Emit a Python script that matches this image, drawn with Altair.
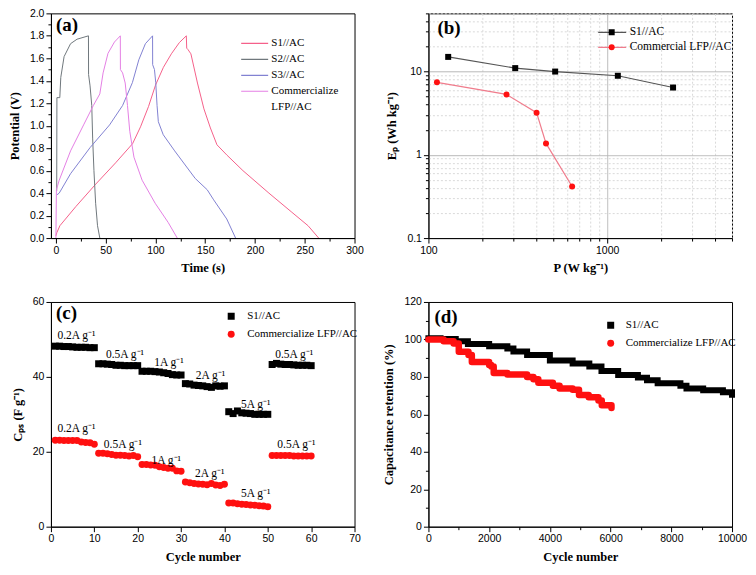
import altair as alt
import pandas as pd

SERIF = "Liberation Serif"
SANS = "Liberation Sans"
W, H = 304, 225

# ---------------- (a) galvanostatic charge/discharge ----------------
a_names = ["S1//AC", "S2//AC", "S3//AC", "Commercialize LFP//AC"]
a_colors = ["#f5608a", "#6f777c", "#8282d2", "#e47fe4"]
a_s1_t = [0, 1, 4, 20, 40, 60, 77, 85, 93, 100, 108, 116, 124, 131,
          131.4, 132.5, 135.6, 142.2, 148.7, 155.2, 161.8, 171.6, 187.9, 214, 237, 253.3, 264]
a_s1_v = [0.02, 0.05, 0.11, 0.28, 0.48, 0.67, 0.84, 0.99, 1.17, 1.36, 1.52, 1.64, 1.74, 1.80,
          1.69, 1.68, 1.64, 1.38, 1.15, 0.98, 0.83, 0.74, 0.60, 0.40, 0.23, 0.11, 0.0]
a_s2_t = [0.8, 1.0, 3.9, 4.9, 8.2, 14.7, 21.2, 32.7, 32.8, 34.3, 36.0, 36.9, 38.2, 39.9, 41.8, 44.1]
a_s2_v = [0.42, 1.25, 1.25, 1.43, 1.615, 1.73, 1.77, 1.80, 1.456, 1.355, 1.18, 0.89, 0.60, 0.31, 0.11, 0.0]
a_s3_t = [1.0, 3.3, 14.7, 34.3, 53.9, 67.0, 76.8, 83.3, 89.9, 97.1, 97.2, 99.0, 100.3, 101.6,
          102.9, 107.8, 119.3, 140.0, 152.0, 158.5, 171.6, 180.5]
a_s3_v = [0.385, 0.40, 0.573, 0.805, 1.007, 1.18, 1.383, 1.587, 1.73, 1.80, 1.543, 1.50, 1.383, 1.18,
          1.036, 0.92, 0.776, 0.53, 0.43, 0.34, 0.17, 0.0]
a_lfp_t = [0, 0.5, 3.3, 14.7, 27.8, 37.6, 44.1, 47.4, 52.3, 58.8, 64.7, 64.8, 67.0, 69.6, 71.9,
           74.2, 78.4, 86.6, 99.7, 112.7, 121.9]
a_lfp_v = [0.0, 0.43, 0.515, 0.776, 1.007, 1.18, 1.283, 1.47, 1.644, 1.745, 1.80, 1.50, 1.47, 1.38,
           1.18, 0.95, 0.72, 0.515, 0.31, 0.14, 0.0]

# ---------------- (b) Ragone plot ----------------
b_names = ["S1//AC", "Commercial LFP//AC"]
b_s1_p = [129, 306, 512, 1148, 2339]
b_s1_e = [15.0, 11.0, 10.0, 8.9, 6.43]
b_lfp_p = [111.6, 273.6, 402.9, 455, 637]
b_lfp_e = [7.43, 5.31, 3.21, 1.37, 0.417]

# ---------------- (c) rate capability ----------------
c_names = ["S1//AC", "Commercialize LFP//AC"]
c_cycle = list(range(1, 61))
c_s1 = [48.2, 48.2, 48.1, 48.1, 48.0, 47.9, 47.9, 47.9, 47.8, 47.8,
        43.5, 43.5, 43.4, 43.3, 43.1, 43.1, 43.0, 43.0, 43.0, 43.0,
        41.5, 41.5, 41.5, 41.4, 41.3, 41.1, 40.9, 40.6, 40.5, 40.5,
        38.2, 38.1, 37.8, 37.7, 37.6, 37.4, 37.2, 37.6, 37.5, 37.6,
        30.7, 30.2, 30.9, 30.4, 30.3, 30.2, 30.0, 30.0, 30.0, 30.0,
        43.3, 43.6, 43.4, 43.3, 43.3, 43.2, 43.1, 43.1, 43.1, 43.0]
c_lfp = [23.1, 23.1, 23.0, 23.0, 23.0, 23.0, 22.6, 22.5, 22.4, 22.0,
         19.6, 19.6, 19.5, 19.3, 19.1, 19.1, 19.0, 18.9, 19.0, 18.7,
         16.6, 16.6, 16.5, 16.4, 16.0, 15.8, 15.6, 15.6, 14.9, 14.8,
         11.9, 11.7, 11.5, 11.4, 11.3, 11.2, 11.5, 11.1, 11.0, 11.3,
         6.3, 6.3, 6.1, 6.0, 5.9, 5.8, 5.7, 5.6, 5.5, 5.3,
         19.0, 19.0, 19.0, 19.0, 19.0, 18.9, 18.9, 18.9, 18.9, 18.9]
c_note_text = ["0.2A g⁻¹", "0.5A g⁻¹", "1A g⁻¹", "2A g⁻¹", "5A g⁻¹", "0.5A g⁻¹",
               "0.2A g⁻¹", "0.5A g⁻¹", "1A g⁻¹", "2A g⁻¹", "5A g⁻¹", "0.5A g⁻¹"]
c_note_x = [1.5, 12.7, 23.8, 33.4, 43.8, 51.7, 1.5, 12.2, 23.2, 33.2, 43.8, 52.2]
c_note_y = [50.0, 45.0, 42.8, 39.3, 31.7, 45.0, 25.2, 20.9, 16.8, 13.3, 7.8, 20.9]

# ---------------- (d) cycling stability ----------------
d_names = ["S1//AC", "Commercialize LFP//AC"]
d_s1_cycle = [0, 400, 900, 1300, 2000, 2600, 2800, 3250, 4000, 4750, 5300, 5700, 6250, 6900,
              7200, 7550, 8300, 8500, 9050, 9700, 10000]
d_s1_ret = [100.6, 100.2, 99.0, 97.5, 96.3, 95.2, 93.6, 91.7, 88.8, 87.2, 85.6, 83.2, 81.0, 79.6,
            78.2, 76.6, 75.3, 73.8, 72.9, 71.8, 70.4]
d_lfp_cycle = [0, 500, 830, 1000, 1320, 1430, 2000, 2070, 2150, 2600, 3250, 3460, 3620, 4100,
               4320, 4750, 4960, 5280, 5600, 5710, 6030]
d_lfp_ret = [100.0, 99.0, 97.8, 93.4, 91.7, 87.9, 86.4, 85.6, 82.1, 81.3, 79.9, 78.7, 76.9, 75.2,
             73.8, 73.1, 70.3, 69.1, 67.4, 64.8, 63.4]


def frame(names, xs_list, ys_list, xn, yn):
    parts = []
    for n, xs, ys in zip(names, xs_list, ys_list):
        parts.append(pd.DataFrame({xn: xs, yn: ys, "series": n, "series2": n + " ",
                                   "i": list(range(len(xs)))}))
    return pd.concat(parts, ignore_index=True)


def axis(title, values, major, fmt, tpad, grid=False, **kw):
    props = dict(
        title=title, values=values,
        labelExpr=f"({major}) ? format(datum.value, '{fmt}') : ''",
        tickSize={"condition": {"test": major, "value": 5}, "value": 3},
        labelOverlap=False, labelFlush=False, titlePadding=tpad, grid=grid,
    )
    if grid:
        props["gridColor"] = {"condition": {"test": major, "value": "#b4b4b4"}, "value": "#d9d9d9"}
        props["gridDash"] = {"condition": {"test": major, "value": [1, 0]}, "value": [2, 2]}
    props.update(kw)
    return alt.Axis(**props)


def panel_label(s, x, y):
    return alt.Chart(pd.DataFrame({"lab": [s]})).mark_text(
        font=SERIF, fontSize=19, fontWeight="bold", align="left", baseline="alphabetic", color="black"
    ).encode(text="lab:N", x=alt.value(x), y=alt.value(y))


# ---- panel a
df_a = frame(a_names, [a_s1_t, a_s2_t, a_s3_t, a_lfp_t], [a_s1_v, a_s2_v, a_s3_v, a_lfp_v], "t", "v")
leg_a = alt.Legend(orient="none", legendX=189.5, legendY=22, title=None, symbolType="stroke",
                   symbolSize=729, symbolStrokeWidth=1.2, clipHeight=16, rowPadding=0,
                   labelOffset=2.2, labelFontSize=11,
                   labelExpr="datum.label == 'Commercialize LFP//AC' ? ['Commercialize', ' LFP//AC'] : datum.label")
lines_a = alt.Chart(df_a).mark_line(strokeWidth=1, clip=True).encode(
    x=alt.X("t:Q", scale=alt.Scale(domain=[-5, 300], nice=False, zero=False),
            axis=axis("Time (s)", list(range(0, 301, 25)), "datum.value % 50 === 0", "d", 6)),
    y=alt.Y("v:Q", scale=alt.Scale(domain=[0, 2], nice=False),
            axis=axis("Potential (V)", [i / 10 for i in range(21)],
                      "round(datum.value * 10) % 2 === 0", ".1f", 8)),
    color=alt.Color("series:N", scale=alt.Scale(domain=a_names, range=a_colors), sort=a_names, legend=leg_a),
    order=alt.Order("i:Q"),
)
chart_a = alt.layer(lines_a, panel_label("(a)", 5, 18)).properties(width=W, height=H)

# ---- panel b
df_b = frame(b_names, [b_s1_p, b_lfp_p], [b_s1_e, b_lfp_e], "p", "e")
b_names2 = [n + " " for n in b_names]
log_major = "abs(log(datum.value) / LN10 - round(log(datum.value) / LN10)) < 0.001"
bx = alt.X("p:Q", scale=alt.Scale(type="log", domain=[100, 5000], nice=False),
           axis=axis("P (W kg⁻¹)", [100, 200, 300, 400, 500, 600, 700, 800, 900, 1000, 2000, 3000, 4000, 5000],
                     log_major, "~g", 6, grid=True))
by = alt.Y("e:Q", scale=alt.Scale(type="log", domain=[0.1, 50], nice=False),
           axis=axis("Eₚ (Wh kg⁻¹)", [0.1, 0.2, 0.3, 0.4, 0.5, 0.6, 0.7, 0.8, 0.9, 1, 2, 3, 4, 5, 6, 7, 8, 9,
                                      10, 20, 30, 40, 50], log_major, "~g", 8, grid=True))
leg_b_line = alt.Legend(orient="none", legendX=169, legendY=11.5, title=None, symbolType="stroke",
                        symbolSize=784, symbolStrokeWidth=1.2, clipHeight=15, rowPadding=0,
                        labelOffset=2.5, labelFontSize=11.5)
leg_b_pts = alt.Legend(orient="none", legendX=178, legendY=11.5, title=None, symbolSize=36,
                       clipHeight=15, rowPadding=0, labelExpr="''", labelFontSize=11)
lines_b = alt.Chart(df_b).mark_line(strokeWidth=1.2).encode(
    x=bx, y=by,
    stroke=alt.Stroke("series:N", scale=alt.Scale(domain=b_names, range=["#555555", "#f07c8c"]),
                      sort=b_names, legend=leg_b_line),
    order=alt.Order("i:Q"),
)
pts_b = alt.Chart(df_b).mark_point(filled=True, size=36, opacity=1, strokeWidth=0).encode(
    x=bx, y=by,
    fill=alt.Fill("series2:N", scale=alt.Scale(domain=b_names2, range=["#000000", "#ff1010"]),
                  sort=b_names2, legend=leg_b_pts),
    shape=alt.Shape("series2:N", scale=alt.Scale(domain=b_names2, range=["square", "circle"]),
                    sort=b_names2, legend=leg_b_pts),
)
chart_b = alt.layer(lines_b, pts_b, panel_label("(b)", 9, 21)).properties(width=W, height=H)

# ---- panel c
df_c = frame(c_names, [c_cycle, c_cycle], [c_s1, c_lfp], "cycle", "cap")
cx = alt.X("cycle:Q", scale=alt.Scale(domain=[0, 70], nice=False),
           axis=axis("Cycle number", list(range(0, 71, 5)), "datum.value % 10 === 0", "d", 6))
cy = alt.Y("cap:Q", scale=alt.Scale(domain=[0, 60], nice=False),
           axis=axis("Cₚₛ (F g⁻¹)", list(range(0, 61, 5)), "datum.value % 10 === 0", "d", 8))
leg_c = alt.Legend(orient="none", legendX=175, legendY=5.5, title=None, symbolSize=49,
                   clipHeight=17.6, rowPadding=0, labelOffset=10.5, labelFontSize=11)
pts_c = alt.Chart(df_c).mark_point(filled=True, size=49, opacity=1).encode(
    x=cx, y=cy,
    color=alt.Color("series:N", scale=alt.Scale(domain=c_names, range=["#000000", "#ff1010"]),
                    sort=c_names, legend=leg_c),
    shape=alt.Shape("series:N", scale=alt.Scale(domain=c_names, range=["square", "circle"]),
                    sort=c_names, legend=leg_c),
)
df_cn = pd.DataFrame({"x": c_note_x, "y": c_note_y, "txt": c_note_text})
notes_c = alt.Chart(df_cn).mark_text(font=SERIF, fontSize=11.5, align="left", baseline="alphabetic",
                                     color="black").encode(
    x=alt.X("x:Q", scale=alt.Scale(domain=[0, 70], nice=False)),
    y=alt.Y("y:Q", scale=alt.Scale(domain=[0, 60], nice=False)),
    text="txt:N",
)
chart_c = alt.layer(pts_c, notes_c, panel_label("(c)", 5, 17)).properties(width=W, height=H)

# ---- panel d
dx = alt.X("cycle:Q", scale=alt.Scale(domain=[0, 10000], nice=False),
           axis=axis("Cycle number", list(range(0, 10001, 1000)), "datum.value % 2000 === 0", "d", 6))
dy = alt.Y("ret:Q", scale=alt.Scale(domain=[0, 120], nice=False),
           axis=axis("Capacitance retention (%)", list(range(0, 121, 10)), "datum.value % 20 === 0", "d", 8))
df_d1 = pd.DataFrame({"cycle": d_s1_cycle, "ret": d_s1_ret, "series": d_names[0]})
df_d2 = pd.DataFrame({"cycle": d_lfp_cycle, "ret": d_lfp_ret, "series": d_names[1]})
df_d = pd.concat([df_d1, df_d2], ignore_index=True)
line_d1 = alt.Chart(df_d1).mark_line(color="#000000", strokeWidth=6, strokeCap="square",
                                     strokeJoin="miter", interpolate="step-after").encode(x=dx, y=dy)
line_d2 = alt.Chart(df_d2).mark_line(color="#ff1010", strokeWidth=6.5, strokeCap="round",
                                     strokeJoin="round", interpolate="step-after").encode(x=dx, y=dy)
leg_d = alt.Legend(orient="none", legendX=177, legendY=14.5, title=None, symbolSize=49,
                   symbolOpacity=1, clipHeight=17.6, rowPadding=0, labelOffset=9.5, labelFontSize=11)
pts_d = alt.Chart(df_d).mark_point(filled=True, size=49, opacity=0).encode(
    x=dx, y=dy,
    color=alt.Color("series:N", scale=alt.Scale(domain=d_names, range=["#000000", "#ff1010"]),
                    sort=d_names, legend=leg_d),
    shape=alt.Shape("series:N", scale=alt.Scale(domain=d_names, range=["square", "circle"]),
                    sort=d_names, legend=leg_d),
)
chart_d = alt.layer(line_d1, line_d2, pts_d, panel_label("(d)", 6, 21)).properties(width=W, height=H)

ind = dict(color="independent", fill="independent", shape="independent", stroke="independent")
chart = alt.concat(chart_a, chart_b, chart_c, chart_d, columns=2,
                   spacing={"row": 64, "column": 74}, bounds="flush"
                   ).resolve_scale(**ind).resolve_legend(**ind)

chart = chart.properties(padding={"left": -1, "top": -1, "right": 0, "bottom": 0}).configure(
    style={"guide-label": {"lineHeight": 16}}
).configure_axis(
    labelFont=SANS, labelFontSize=10.5, labelColor="black", labelPadding=2,
    titleFont=SERIF, titleFontSize=12.5, titleFontWeight="bold", titleColor="black",
    domainColor="black", domainWidth=1, tickColor="black", tickWidth=1,
).configure_view(stroke="black", strokeWidth=1).configure_legend(
    labelFont=SERIF, labelColor="black", padding=0
)

chart.save("out.html", embed_options={"renderer": "svg", "actions": False})
